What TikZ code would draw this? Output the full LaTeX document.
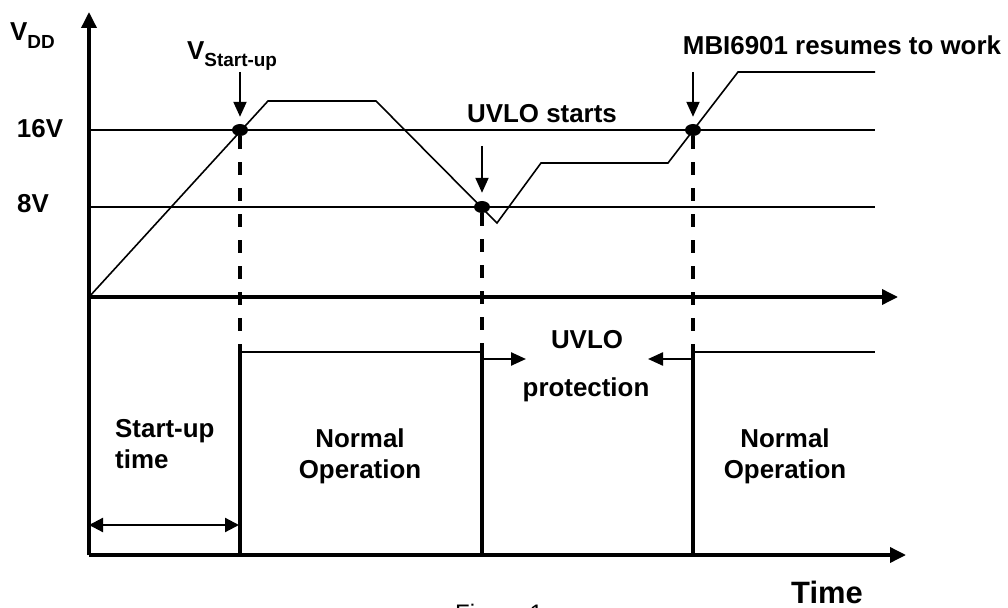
\documentclass[tikz,border=0pt]{standalone}
\usepackage{fontspec}
\setmainfont{Liberation Sans}
\usetikzlibrary{arrows.meta,shapes.geometric}
\begin{document}
\begin{tikzpicture}[x=1bp,y=-1bp,
  axis/.style={line width=3.5bp},
  axarrow/.style={axis,-{Triangle[length=16bp,width=15bp]}},
  level/.style={line width=2bp},
  wave/.style={line width=1.6bp,line join=miter},
  edge/.style={line width=3.2bp},
  hline/.style={line width=2bp},
  dline/.style={line width=4bp,dash pattern=on 13bp off 13bp},
  downarrow/.style={line width=2bp,-{Triangle[length=15bp,width=13bp]}},
  smallarrow/.style={line width=2.4bp,-{Triangle[length=15bp,width=13bp]}},
  dblarrow/.style={line width=2.2bp,{Triangle[length=14bp,width=14bp]}-{Triangle[length=14bp,width=14bp]}},
  dot/.style={ellipse,fill=black,minimum width=16bp,minimum height=12bp,inner sep=0},
  lbl/.style={font=\bfseries\fontsize{26}{30}\selectfont,inner sep=0,anchor=base},
  sublbl/.style={font=\bfseries\fontsize{19}{22}\selectfont},
]
\useasboundingbox (0,0) rectangle (1008,608);

% axes
\coordinate (B) at (89,555);
\coordinate (O) at (89,297);
\coordinate (Ytop) at (89,12);
\coordinate (Xend) at (898,297);
\coordinate (Bend) at (906,555);
\draw[axarrow] (B) -- (Ytop);
\draw[axarrow] (O) -- (Xend);
\draw[axarrow] (B) -- (Bend);

% level lines
\coordinate (L16s) at (89,130);
\coordinate (L16e) at (875,130);
\coordinate (L8s) at (89,207);
\coordinate (L8e) at (875,207);
\draw[level] (L16s) -- (L16e);
\draw[level] (L8s) -- (L8e);

% VDD waveform
\coordinate (w1) at (268,101);
\coordinate (w2) at (376,101);
\coordinate (w3) at (497,223);
\coordinate (w4) at (541,163);
\coordinate (w5) at (668,163);
\coordinate (w6) at (738,72);
\coordinate (w7) at (875,72);
\draw[wave] (O) -- (w1) -- (w2) -- (w3) -- (w4) -- (w5) -- (w6) -- (w7);

% lower signal
\coordinate (s1b) at (240,555);
\coordinate (s1t) at (240,352);
\coordinate (s2t) at (482,352);
\coordinate (s2b) at (482,555);
\coordinate (s3b) at (693,555);
\coordinate (s3t) at (693,352);
\coordinate (s4) at (875,352);
\draw[edge] (s1b) -- (s1t);
\draw[hline] (s1t) -- (s2t);
\draw[edge] (s2t) -- (s2b);
\draw[edge] (s3b) -- (s3t);
\draw[hline] (s3t) -- (s4);

% dots
\node[dot] (d1) at (240,130) {};
\node[dot] (d2) at (482,207) {};
\node[dot] (d3) at (693,130) {};

% dashed drops
\draw[dline] (d1.south) -- (s1t);
\draw[dline] (d2.south) -- (s2t);
\draw[dline] (d3.south) -- (s3t);

% down arrows
\coordinate (a1) at (240,72);
\coordinate (a2) at (482,146);
\coordinate (a3) at (693,72);
\draw[downarrow,shorten >=7bp] (a1) -- (d1.north);
\draw[downarrow,shorten >=8bp] (a2) -- (d2.north);
\draw[downarrow,shorten >=7bp] (a3) -- (d3.north);

% UVLO arrows
\coordinate (u1s) at (482,359);
\coordinate (u1e) at (526,359);
\coordinate (u2s) at (693,359);
\coordinate (u2e) at (648,359);
\draw[smallarrow] (u1s) -- (u1e);
\draw[smallarrow] (u2s) -- (u2e);

% start-up time arrow
\coordinate (t1) at (89,525);
\coordinate (t2) at (239,525);
\draw[dblarrow] (t1) -- (t2);

% labels
\node[lbl,anchor=base west] (vdd) at (10,41) {V\raisebox{-8bp}{\fontsize{19}{22}\selectfont DD}};
\node[lbl] (v16) at (40,138) {16V};
\node[lbl] (v8) at (33,213) {8V};
\node[lbl,anchor=base west] (vsu) at (187,60) {V\raisebox{-7bp}{\fontsize{19}{22}\selectfont Start-up}};
\node[lbl] (uvst) at (542,123) {UVLO starts};
\node[lbl] (mbi) at (842,55) {MBI6901 resumes to work};
\node[lbl] (uvlo) at (587,348) {UVLO};
\node[lbl] (prot) at (586,396) {protection};
\node[lbl,anchor=base west] (su1) at (115,437) {Start-up};
\node[lbl,anchor=base west] (su2) at (115,468) {time};
\node[lbl] (no1a) at (360,447) {Normal};
\node[lbl] (no1b) at (360,478) {Operation};
\node[lbl] (no2a) at (785,447) {Normal};
\node[lbl] (no2b) at (785,478) {Operation};
\node[lbl,font=\bfseries\fontsize{31}{34}\selectfont] (time) at (827,603) {Time};
\node[inner sep=0,anchor=base west,font=\fontsize{24}{28}\selectfont] (fig) at (455,621) {Figure 1};
\end{tikzpicture}
\end{document}
